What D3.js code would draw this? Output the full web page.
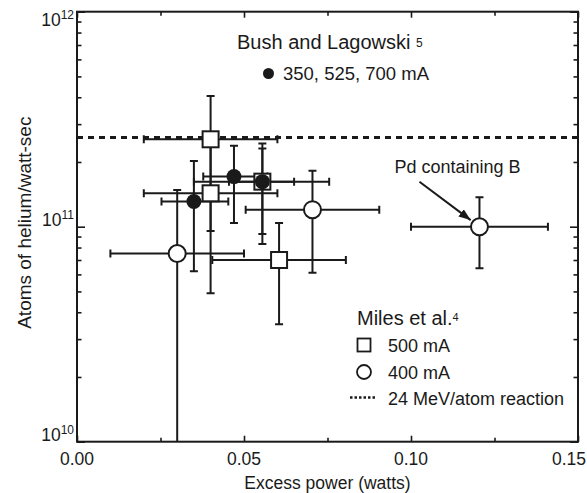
<!DOCTYPE html>
<html>
<head>
<meta charset="utf-8">
<script src="https://cdn.jsdelivr.net/npm/d3@7"></script>
<style>
  html, body { margin: 0; padding: 0; background: #fff; }
  svg { display: block; font-family: "Liberation Sans", Arial, Helvetica, sans-serif; }
</style>
</head>
<body>
<svg id="chart" width="587" height="493"></svg>
<script>
// ---- Data -------------------------------------------------------------
// x axis
const xTickValues = [0, 0.05, 0.10, 0.15];
const xTickLabels = ["0.00", "0.05", "0.10", "0.15"];
const xMinorTickValues = [0.025, 0.075, 0.125];

// y axis (log)
const yDecadeValues = [1e10, 1e11, 1e12];
const yDecadeExponents = ["10", "11", "12"];
const yMinorTickValues = [2e10, 3e10, 4e10, 5e10, 6e10, 7e10, 8e10, 9e10,
                          2e11, 3e11, 4e11, 5e11, 6e11, 7e11, 8e11, 9e11];

// Miles et al., 500 mA (open squares)
const miles500 = [
  { x: 0.040,  y: 2.55e11, xLo: 0.020,  xHi: 0.060,  yLo: 0.955e11, yHi: 4.05e11 },
  { x: 0.040,  y: 1.43e11, xLo: 0.020,  xHi: 0.060,  yLo: 0.49e11,  yHi: 2.37e11 },
  { x: 0.0555, y: 1.62e11, xLo: 0.035,  xHi: 0.0755, yLo: 0.925e11, yHi: 2.44e11 },
  { x: 0.0605, y: 0.70e11, xLo: 0.0405, xHi: 0.0805, yLo: 0.352e11, yHi: 1.04e11 }
];

// Miles et al., 400 mA (open circles)
const miles400 = [
  { x: 0.030,  y: 0.75e11, xLo: 0.010,  xHi: 0.050,  yLo: 0.02e11, yHi: 1.48e11 },
  { x: 0.0705, y: 1.20e11, xLo: 0.0505, xHi: 0.0905, yLo: 0.61e11, yHi: 1.82e11 },
  { x: 0.1205, y: 1.00e11, xLo: 0.100,  xHi: 0.141,  yLo: 0.64e11, yHi: 1.37e11 }
];

// Bush and Lagowski, 350 / 525 / 700 mA (filled circles)
const bushLagowski = [
  { x: 0.035,  y: 1.31e11, xLo: 0.0253, xHi: 0.0453, yLo: 0.62e11, yHi: 2.02e11 },
  { x: 0.047,  y: 1.71e11, xLo: 0.0378, xHi: 0.057,  yLo: 1.04e11, yHi: 2.38e11 },
  { x: 0.0555, y: 1.62e11, xLo: 0.0455, xHi: 0.065,  yLo: 0.83e11, yHi: 2.31e11 }
];

// 24 MeV per helium atom: 1 J = 6.24e18 eV  ->  2.6e11 atoms per watt-sec
const reactionRate = 2.6e11;

// Boron-containing Pd cell (annotated)
const boronPoint = miles400[2];

// ---- Layout -----------------------------------------------------------
const W = 587, H = 493;
const plot = { left: 77, right: 578, top: 11.7, bottom: 441.7 };
const ink = "#1a1a1a";
const textInk = "#1a1a1a";

const svg = d3.select("#chart");
svg.append("rect").attr("width", W).attr("height", H).attr("fill", "#fff");

const x = d3.scaleLinear().domain([0, 0.15]).range([plot.left, plot.right]);
const y = d3.scaleLog().domain([1e10, 1e12]).range([plot.bottom, plot.top]);

svg.append("defs").append("clipPath").attr("id", "plotClip")
  .append("rect")
  .attr("x", plot.left).attr("y", plot.top)
  .attr("width", plot.right - plot.left).attr("height", plot.bottom - plot.top);

// ---- Axes (ticks point inward on all four sides) ---------------------
function styleAxis(g) {
  g.select(".domain").remove();
  g.selectAll(".tick line").attr("stroke", ink).attr("stroke-width", 1.6);
  g.selectAll(".tick text").remove();
}
svg.append("g").attr("transform", `translate(0,${plot.bottom})`)
  .call(d3.axisBottom(x).tickValues(xTickValues).tickSize(-6)).call(styleAxis);
svg.append("g").attr("transform", `translate(0,${plot.bottom})`)
  .call(d3.axisBottom(x).tickValues(xMinorTickValues).tickSize(-4)).call(styleAxis);
svg.append("g").attr("transform", `translate(0,${plot.top})`)
  .call(d3.axisTop(x).tickValues(xTickValues).tickSize(-6)).call(styleAxis);
svg.append("g").attr("transform", `translate(0,${plot.top})`)
  .call(d3.axisTop(x).tickValues(xMinorTickValues).tickSize(-4)).call(styleAxis);

svg.append("g").attr("transform", `translate(${plot.left},0)`)
  .call(d3.axisLeft(y).tickValues(yDecadeValues).tickSize(-8)).call(styleAxis);
svg.append("g").attr("transform", `translate(${plot.left},0)`)
  .call(d3.axisLeft(y).tickValues(yMinorTickValues).tickSize(-4.5)).call(styleAxis);
svg.append("g").attr("transform", `translate(${plot.right},0)`)
  .call(d3.axisRight(y).tickValues(yDecadeValues).tickSize(-8)).call(styleAxis);
svg.append("g").attr("transform", `translate(${plot.right},0)`)
  .call(d3.axisRight(y).tickValues(yMinorTickValues).tickSize(-4.5)).call(styleAxis);

// frame
svg.append("rect")
  .attr("x", plot.left).attr("y", plot.top)
  .attr("width", plot.right - plot.left).attr("height", plot.bottom - plot.top)
  .attr("fill", "none").attr("stroke", ink).attr("stroke-width", 2);

// x tick labels (last one kept inside the page)
svg.append("g").selectAll("text").data(xTickValues).join("text")
  .attr("x", (d, i) => i === xTickValues.length - 1 ? W - 1 : x(d))
  .attr("y", plot.bottom + 23.5)
  .attr("text-anchor", (d, i) => i === xTickValues.length - 1 ? "end" : "middle")
  .attr("font-size", 17.5).attr("fill", textInk)
  .text((d, i) => xTickLabels[i]);

// y tick labels: 10 with superscript exponent
const yLab = svg.append("g").selectAll("text").data(yDecadeValues).join("text")
  .attr("x", plot.left - 3)
  .attr("y", d => Math.min(Math.max(y(d) - 1, 26), 446))
  .attr("text-anchor", "end")
  .attr("fill", textInk);
yLab.append("tspan").attr("font-size", 17.5).text("10");
yLab.append("tspan").attr("font-size", 12).attr("dy", -7)
  .text((d, i) => yDecadeExponents[i]);

// axis titles
svg.append("text")
  .attr("x", (plot.left + plot.right) / 2).attr("y", 489)
  .attr("text-anchor", "middle").attr("font-size", 17.5).attr("fill", textInk)
  .text("Excess power (watts)");
svg.append("text")
  .attr("transform", `translate(31,${(plot.top + plot.bottom) / 2 - 4}) rotate(-90)`)
  .attr("text-anchor", "middle").attr("font-size", 19).attr("fill", textInk)
  .text("Atoms of helium/watt-sec");

// ---- 24 MeV/atom reference line ---------------------------------------
svg.append("line")
  .attr("x1", plot.left).attr("x2", plot.right)
  .attr("y1", y(reactionRate)).attr("y2", y(reactionRate))
  .attr("stroke", ink).attr("stroke-width", 3).attr("stroke-dasharray", "6,5");

// ---- Error bars -------------------------------------------------------
const capHalf = 4;
const errG = svg.append("g").attr("clip-path", "url(#plotClip)")
  .attr("stroke", ink).attr("stroke-width", 2).attr("fill", "none");

function drawErrors(rows) {
  rows.forEach(d => {
    const cx = x(d.x), cy = y(d.y);
    // horizontal
    errG.append("line").attr("x1", x(d.xLo)).attr("x2", x(d.xHi)).attr("y1", cy).attr("y2", cy);
    [d.xLo, d.xHi].forEach(v => errG.append("line")
      .attr("x1", x(v)).attr("x2", x(v)).attr("y1", cy - capHalf).attr("y2", cy + capHalf));
    // vertical
    errG.append("line").attr("x1", cx).attr("x2", cx).attr("y1", y(d.yLo)).attr("y2", y(d.yHi));
    [d.yLo, d.yHi].forEach(v => errG.append("line")
      .attr("x1", cx - capHalf).attr("x2", cx + capHalf).attr("y1", y(v)).attr("y2", y(v)));
  });
}
drawErrors(miles400);
drawErrors(miles500);
drawErrors(bushLagowski);

// ---- Markers ----------------------------------------------------------
const sq = 16, rOpen = 8.5, rFilled = 7.5;
const mk = svg.append("g");

mk.selectAll("rect.m500").data(miles500).join("rect").attr("class", "m500")
  .attr("x", d => x(d.x) - sq / 2).attr("y", d => y(d.y) - sq / 2)
  .attr("width", sq).attr("height", sq)
  .attr("fill", "#fff").attr("stroke", ink).attr("stroke-width", 2);

mk.selectAll("circle.m400").data(miles400).join("circle").attr("class", "m400")
  .attr("cx", d => x(d.x)).attr("cy", d => y(d.y)).attr("r", rOpen)
  .attr("fill", "#fff").attr("stroke", ink).attr("stroke-width", 2);

mk.selectAll("circle.bl").data(bushLagowski).join("circle").attr("class", "bl")
  .attr("cx", d => x(d.x)).attr("cy", d => y(d.y)).attr("r", rFilled)
  .attr("fill", ink).attr("stroke", "none");

// ---- Annotation: Pd containing B --------------------------------------
svg.select("defs").append("marker")
  .attr("id", "arrowHead").attr("markerUnits", "userSpaceOnUse")
  .attr("markerWidth", 13).attr("markerHeight", 9)
  .attr("refX", 12).attr("refY", 4.5).attr("orient", "auto")
  .append("path").attr("d", "M0,0 L12,4.5 L0,9 Z").attr("fill", ink);

const bx = x(boronPoint.x), by = y(boronPoint.y);
const ax0 = bx - 60, ay0 = by - 45;
const dirLen = Math.hypot(bx - ax0, by - ay0);
const tipGap = rOpen + 2.5;
svg.append("line")
  .attr("x1", ax0).attr("y1", ay0)
  .attr("x2", bx - (bx - ax0) / dirLen * tipGap)
  .attr("y2", by - (by - ay0) / dirLen * tipGap)
  .attr("stroke", ink).attr("stroke-width", 2)
  .attr("marker-end", "url(#arrowHead)");
svg.append("text")
  .attr("x", bx - 22).attr("y", by - 54)
  .attr("text-anchor", "middle").attr("font-size", 18).attr("fill", textInk)
  .text("Pd containing B");

// ---- Legends ----------------------------------------------------------
const bush = svg.append("text").attr("x", 237).attr("y", 48.5)
  .attr("font-size", 20).attr("fill", textInk);
bush.append("tspan").text("Bush and Lagowski ");
bush.append("tspan").attr("font-size", 12).attr("dy", -2).text("5");

svg.append("circle").attr("cx", 268.5).attr("cy", 73.5).attr("r", 5.5).attr("fill", ink);
svg.append("text").attr("x", 283).attr("y", 79.5)
  .attr("font-size", 18.5).attr("fill", textInk).text("350, 525, 700 mA");

const miles = svg.append("text").attr("x", 357).attr("y", 325)
  .attr("font-size", 20).attr("fill", textInk);
miles.append("tspan").text("Miles et al.");
miles.append("tspan").attr("font-size", 11).attr("dy", -4).text("4");

svg.append("rect").attr("x", 364 - 6.5).attr("y", 345 - 6.5)
  .attr("width", 13).attr("height", 13)
  .attr("fill", "#fff").attr("stroke", ink).attr("stroke-width", 1.8);
svg.append("text").attr("x", 388).attr("y", 352)
  .attr("font-size", 18).attr("fill", textInk).text("500 mA");

svg.append("circle").attr("cx", 364).attr("cy", 372).attr("r", 7)
  .attr("fill", "#fff").attr("stroke", ink).attr("stroke-width", 1.8);
svg.append("text").attr("x", 388).attr("y", 379)
  .attr("font-size", 18).attr("fill", textInk).text("400 mA");

svg.append("line").attr("x1", 350).attr("x2", 376).attr("y1", 397.5).attr("y2", 397.5)
  .attr("stroke", ink).attr("stroke-width", 2.5).attr("stroke-dasharray", "2.5,2");
svg.append("text").attr("x", 388).attr("y", 405)
  .attr("font-size", 18).attr("fill", textInk).text("24 MeV/atom reaction");
</script>
</body>
</html>
